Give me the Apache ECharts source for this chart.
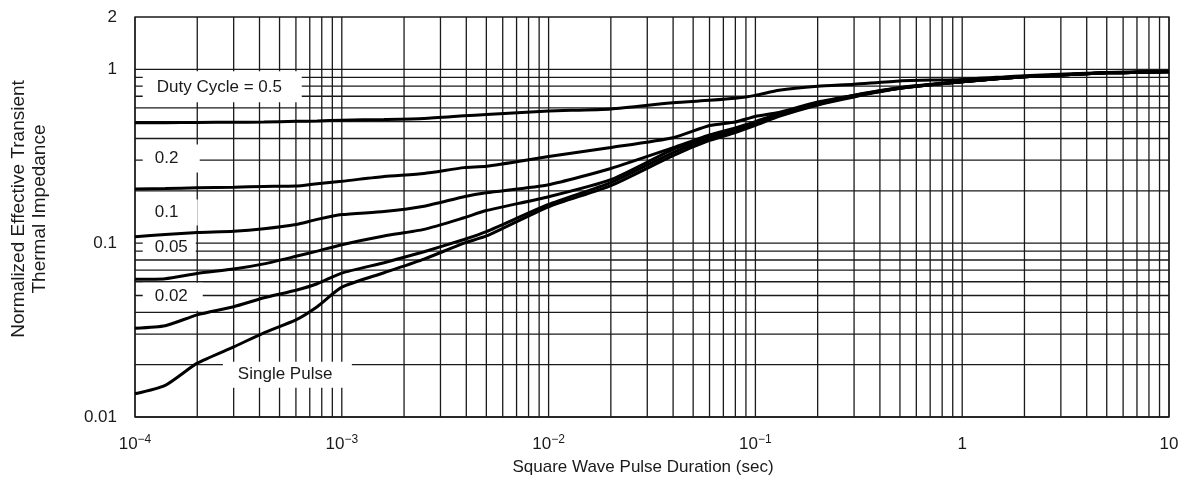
<!DOCTYPE html>
<html>
<head>
<meta charset="utf-8">
<script src="https://cdn.jsdelivr.net/npm/echarts@6/dist/echarts.min.js"></script>
<style>
  html, body { margin: 0; padding: 0; background: #fff; }
  #chart { width: 1189px; height: 478px; }
</style>
</head>
<body>
<div id="chart"></div>
<script>
// square wave pulse duration (sec), shared by all curves
const pulseDuration = [1e-4, 1.4e-4, 2e-4, 3e-4, 4.2e-4, 6e-4, 7.6e-4, 1e-3, 1.6e-3, 2.5e-3, 3.9e-3, 5e-3,
  1e-2, 2e-2, 4e-2, 6e-2, 8e-2, 0.1, 0.13, 0.2, 0.3, 0.5, 1, 2, 5, 10]

// normalized effective transient thermal impedance, one array per duty cycle
const duty05 = [0.493, 0.493, 0.495, 0.496, 0.498, 0.502, 0.505, 0.51, 0.515, 0.522, 0.54, 0.55,
  0.575, 0.592, 0.643, 0.663, 0.681, 0.708, 0.757, 0.798, 0.82, 0.858, 0.875, 0.92, 0.96, 0.975]
const duty02 = [0.205, 0.206, 0.208, 0.21, 0.212, 0.213, 0.22, 0.227, 0.242, 0.252, 0.272, 0.277,
  0.315, 0.355, 0.404, 0.475, 0.498, 0.536, 0.565, 0.648, 0.71, 0.785, 0.85, 0.905, 0.955, 0.97]
const duty01 = [0.109, 0.112, 0.115, 0.117, 0.121, 0.128, 0.137, 0.146, 0.152, 0.163, 0.185, 0.195,
  0.217, 0.269, 0.354, 0.419, 0.46, 0.5, 0.556, 0.637, 0.708, 0.782, 0.847, 0.905, 0.955, 0.97]
const duty005 = [0.062, 0.0625, 0.067, 0.071, 0.076, 0.084, 0.09, 0.098, 0.11, 0.12, 0.14, 0.154,
  0.185, 0.232, 0.346, 0.41, 0.454, 0.495, 0.55, 0.633, 0.704, 0.777, 0.847, 0.905, 0.955, 0.97]
const duty002 = [0.0324, 0.0335, 0.0387, 0.0431, 0.0485, 0.0536, 0.0584, 0.0673, 0.0772, 0.0893, 0.105, 0.1165,
  0.167, 0.223, 0.332, 0.4, 0.442, 0.482, 0.543, 0.628, 0.699, 0.777, 0.847, 0.905, 0.955, 0.97]
const singlePulse = [0.0136, 0.0152, 0.0204, 0.0253, 0.0305, 0.0362, 0.0431, 0.0558, 0.0676, 0.081, 0.1, 0.11,
  0.162, 0.2145, 0.319, 0.39, 0.433, 0.4755, 0.536, 0.624, 0.694, 0.777, 0.847, 0.905, 0.955, 0.97]

const curveValues = [duty05, duty02, duty01, duty005, duty002, singlePulse]

// curve labels and where they sit (sec, impedance)
const labelTexts = ['Duty Cycle = 0.5', '0.2', '0.1', '0.05', '0.02', 'Single Pulse']
const labelX = [1.09e-4, 1.09e-4, 1.09e-4, 1.09e-4, 1.09e-4, 2.66e-4]
const labelY = [0.793, 0.307, 0.15, 0.0948, 0.0492, 0.0175]

// tick decades
const xDecades = [1e-4, 1e-3, 1e-2, 1e-1, 1]
const yDecades = [0.01, 0.1]
const xMin = 1e-4
const xMax = 10
const yMin = 0.01
const yMax = 2

const font = '"Liberation Sans", Arial, Helvetica, sans-serif'
const ink = '#1a1a1a'
// white box behind each label: width, height, left padding (px)
const labelBox = [[159, 31, 14], [57, 28, 12], [55, 26, 12], [53, 19, 12], [60, 28, 12], [129, 26, 15]]

// full log grid: 1..9 of every decade
let xGrid = []
xDecades.forEach(d => { for (let m = 1; m <= 9; m++) xGrid.push(m * d) })
xGrid.push(xMax)
let yGrid = []
yDecades.forEach(d => { for (let m = 1; m <= 9; m++) yGrid.push(m * d) })
yGrid.push(1)

let chart = echarts.init(document.getElementById('chart'))

let curveSeries = curveValues.map((vals, i) => ({
  type: 'line',
  name: labelTexts[i],
  z: 3,
  symbol: 'none',
  smooth: 0.2,
  silent: true,
  lineStyle: { color: '#000', width: 3 },
  data: pulseDuration.map((x, k) => [x, vals[k]])
}))

chart.setOption({
  animation: false,
  backgroundColor: '#fff',
  grid: {
    left: 135,
    right: 20,
    top: 17,
    bottom: 61,
    containLabel: false,
    outerBoundsMode: 'none',
    show: true,
    borderColor: ink,
    borderWidth: 1.3
  },
  xAxis: {
    type: 'log',
    logBase: 10,
    min: xMin,
    max: xMax,
    name: 'Square Wave Pulse Duration (sec)',
    nameLocation: 'middle',
    nameGap: 42,
    nameTextStyle: { fontSize: 17, color: ink, fontFamily: font, padding: [0, 18, 0, 0] },
    axisLine: { show: false },
    axisTick: { show: false },
    splitLine: { show: false },
    axisLabel: {
      margin: 17,
      formatter: v => {
        let e = Math.round(Math.log10(v))
        return e < 0 ? '{b|10}{s|\u2212' + (-e) + '}' : '{b|' + Math.pow(10, e) + '}'
      },
      rich: {
        b: { fontSize: 17, color: ink, fontFamily: font, lineHeight: 20 },
        s: { fontSize: 12, color: ink, fontFamily: font, lineHeight: 12, verticalAlign: 'top' }
      }
    }
  },
  yAxis: {
    type: 'log',
    logBase: 10,
    min: yMin,
    max: yMax,
    name: 'Normalized Effective Transient\nThermal Impedance',
    nameLocation: 'middle',
    nameGap: 85,
    nameRotate: 90,
    nameTextStyle: { fontSize: 19, lineHeight: 21, color: ink, fontFamily: font, padding: [0, 0, 0, 16] },
    axisLine: { show: false },
    axisTick: { show: false },
    splitLine: { show: false },
    axisLabel: {
      margin: 18,
      fontSize: 17,
      color: ink,
      fontFamily: font,
      showMaxLabel: true,
      formatter: v => String(+v.toPrecision(2))
    }
  },
  series: [
    {
      // log grid lines
      type: 'custom',
      z: 1,
      silent: true,
      clip: false,
      data: xGrid.map(v => [v, 1, 0]).concat(yGrid.map(v => [xMin, v, 1])),
      renderItem: (params, api) => {
        let vertical = api.value(2) === 0
        let a = vertical ? api.coord([api.value(0), yMin]) : api.coord([xMin, api.value(1)])
        let b = vertical ? api.coord([api.value(0), yMax]) : api.coord([xMax, api.value(1)])
        return {
          type: 'line',
          shape: { x1: a[0], y1: a[1], x2: b[0], y2: b[1] },
          style: { stroke: ink, lineWidth: 1.3 }
        }
      }
    },
    {
      // curve labels on white boxes
      type: 'custom',
      z: 2,
      silent: true,
      clip: false,
      data: labelX.map((x, i) => [x, labelY[i]]),
      renderItem: (params, api) => {
        let i = params.dataIndex
        let p = api.coord([api.value(0), api.value(1)])
        let box = labelBox[i]
        return {
          type: 'group',
          children: [
            {
              type: 'rect',
              shape: { x: p[0], y: p[1] - box[1] / 2, width: box[0], height: box[1] },
              style: { fill: '#fff' }
            },
            {
              type: 'text',
              x: p[0] + box[2],
              y: p[1],
              style: { text: labelTexts[i], fill: ink, fontSize: 17, fontFamily: font, verticalAlign: 'middle' }
            }
          ]
        }
      }
    }
  ].concat(curveSeries)
})
</script>
</body>
</html>
